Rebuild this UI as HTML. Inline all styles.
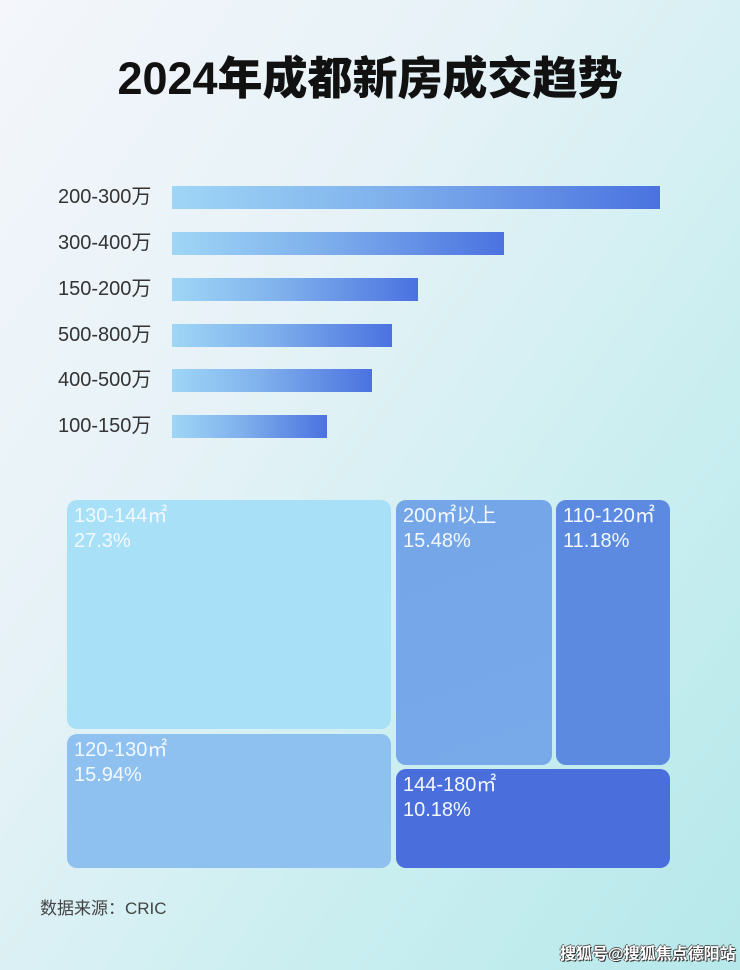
<!DOCTYPE html>
<html><head><meta charset="utf-8"><style>
*{margin:0;padding:0;box-sizing:border-box}
html,body{width:740px;height:970px;overflow:hidden}
body{position:relative;font-family:"Liberation Sans","Noto Sans CJK SC",sans-serif;
background:linear-gradient(125deg,#f4f6fb 0%,#e6f2f7 35%,#c9eef0 70%,#b6e8ea 100%);}
.title{position:absolute;left:0;width:740px;top:42px;text-align:center;font-size:45px;font-weight:900;color:#111;white-space:nowrap}
.lab{position:absolute;left:58px;font-size:20px;color:#333;line-height:23px;white-space:nowrap}
.bar{position:absolute;left:172px;height:23px;background:linear-gradient(90deg,#9fd6f6,#7fb0ec 45%,#4b72e0)}
.b{position:absolute;border-radius:10px;color:#f4f9ff;font-size:20px;line-height:25px;padding:4px 7px;white-space:nowrap}
.src{position:absolute;left:40px;top:894px;font-size:17px;color:#444;white-space:nowrap}
.wm{position:absolute;left:560px;top:940px;font-size:16px;font-weight:bold;color:#fff;white-space:nowrap;text-shadow:1px 1px 0 #333,-1px 0 0 #555,0 -1px 0 #555}
</style></head><body>
<div class="title">2024年成都新房成交趋势</div>
<div class="lab" style="top:186px">200-300万</div><div class="bar" style="top:186px;width:488px"></div>
<div class="lab" style="top:232px">300-400万</div><div class="bar" style="top:232px;width:332px"></div>
<div class="lab" style="top:278px">150-200万</div><div class="bar" style="top:278px;width:246px"></div>
<div class="lab" style="top:324px">500-800万</div><div class="bar" style="top:324px;width:220px"></div>
<div class="lab" style="top:369px">400-500万</div><div class="bar" style="top:369px;width:200px"></div>
<div class="lab" style="top:415px">100-150万</div><div class="bar" style="top:415px;width:155px"></div>

<div class="b" style="left:67px;top:500px;width:324px;height:229px;background:#a8e0f8">130-144㎡<br>27.3%</div>
<div class="b" style="left:67px;top:734px;width:324px;height:134px;background:#8ec0f0">120-130㎡<br>15.94%</div>
<div class="b" style="left:396px;top:500px;width:156px;height:265px;background:linear-gradient(160deg,#74a6e8,#78aaea)">200㎡以上<br>15.48%</div>
<div class="b" style="left:556px;top:500px;width:114px;height:265px;background:#5b8ae0">110-120㎡<br>11.18%</div>
<div class="b" style="left:396px;top:769px;width:274px;height:99px;background:#4a6edc">144-180㎡<br>10.18%</div>

<div class="src">数据来源：CRIC</div>
<div class="wm">搜狐号@搜狐焦点德阳站</div>
</body></html>
